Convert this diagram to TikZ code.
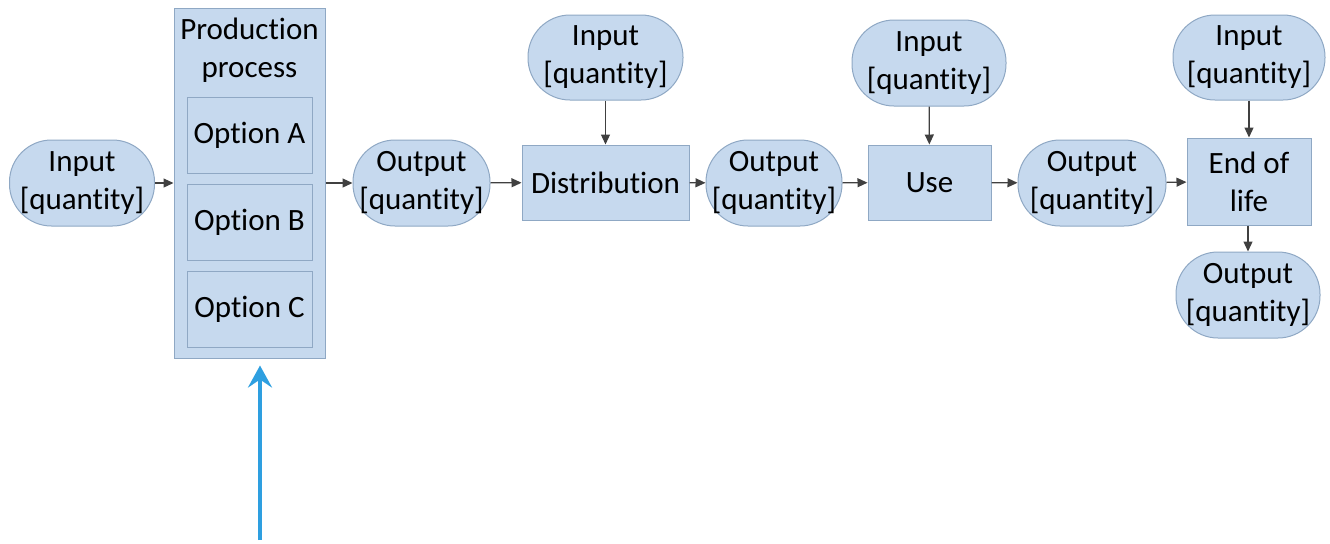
\documentclass[tikz,border=0pt]{standalone}
\usepackage{fontspec}
\setmainfont[Ligatures={NoCommon}]{Carlito}
\usepackage{tikz}
\usetikzlibrary{arrows.meta}

\definecolor{boxfill}{HTML}{C6D9EE}
\definecolor{boxline}{HTML}{8FA8C4}
\definecolor{arrowgray}{HTML}{404040}
\definecolor{bluearrow}{HTML}{2E9FE0}

\begin{document}
\begin{tikzpicture}[x=0.5pt, y=-0.5pt,
  every node/.style={font=\fontsize{15.5}{19}\selectfont, align=center, inner sep=0pt},
  flowbox/.style={draw=boxline, fill=boxfill, line width=0.5pt},
  term/.style={flowbox, rounded corners=21pt},
  flow/.style={draw=arrowgray, line width=0.6pt, -{Triangle[length=5pt,width=4.5pt]}}]
\useasboundingbox (0,0) rectangle (1330,543);
% left input and production process
\node[term, minimum width=72.5pt, minimum height=43pt] (in1) at (82,183) {Input\\{[quantity]}};
\node[flowbox, minimum width=75.5pt, minimum height=175pt] (prod) at (249.5,183) {};
\node (title) at (249.5,50) {Production\\process};
\foreach \y/\name in {135/A,222.5/B,309.5/C}
  \node[flowbox, minimum width=62.5pt, minimum height=38pt] (opt\name) at (249.5,\y) {Option \name};
% main chain
\node[term, minimum width=68.5pt, minimum height=43pt] (out1) at (421.5,183) {Output\\{[quantity]}};
\node[flowbox, minimum width=83.5pt, minimum height=37.5pt] (dist) at (605.5,182.5) {Distribution};
\node[term, minimum width=77.5pt, minimum height=42.5pt] (inD) at (605.5,57.5) {Input\\{[quantity]}};
\node[term, minimum width=68pt, minimum height=43pt] (out2) at (774,183) {Output\\{[quantity]}};
\node[flowbox, minimum width=61.5pt, minimum height=37.5pt] (use) at (929.5,182.5) {Use};
\node[term, minimum width=77pt, minimum height=43pt] (inU) at (929,63) {Input\\{[quantity]}};
\node[term, minimum width=74pt, minimum height=43pt] (out3) at (1092,183) {Output\\{[quantity]}};
\node[flowbox, minimum width=62pt, minimum height=43.5pt] (eol) at (1249,181.5) {End of\\life};
\node[term, minimum width=76pt, minimum height=42.5pt] (inE) at (1249,57.5) {Input\\{[quantity]}};
\node[term, minimum width=72pt, minimum height=43pt] (outE) at (1248,295) {Output\\{[quantity]}};
% connectors
\foreach \a/\b in {in1/prod,prod/out1,out1/dist,dist/out2,out2/use,use/out3,out3/eol,inD/dist,inU/use,inE/eol}
  \draw[flow] (\a) -- (\b);
\draw[flow] (eol.south -| outE) -- (outE);
\coordinate (src) at (260,540);
\draw[bluearrow, line width=2pt, -{Stealth[length=11pt,width=12pt,inset=4pt]}, shorten >=3.5pt] (src) -- (src |- prod.south);
\end{tikzpicture}
\end{document}
